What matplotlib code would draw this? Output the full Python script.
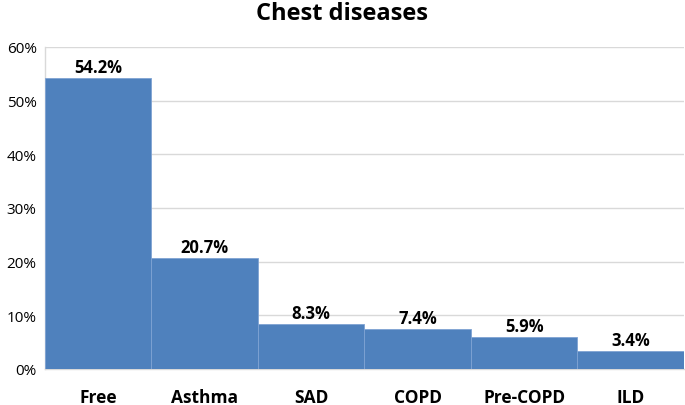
import matplotlib
matplotlib.use("Agg")
import matplotlib.pyplot as plt
from matplotlib.ticker import FuncFormatter

categories = ["Free", "Asthma", "SAD", "COPD", "Pre-COPD", "ILD"]
values = [54.2, 20.7, 8.3, 7.4, 5.9, 3.4]
value_labels = ["54.2%", "20.7%", "8.3%", "7.4%", "5.9%", "3.4%"]
yticks = [0, 10, 20, 30, 40, 50, 60]

plt.rcParams['font.family'] = ['Open Sans', 'DejaVu Sans']

fig = plt.figure(figsize=(6.85, 4.06), dpi=100)
ax = fig.add_axes([0.0657, 0.0887, 0.9328, 0.7931])

x = list(range(len(categories)))
bars = ax.bar(x, values, width=1.0, color="#4F81BD", edgecolor="#7FA3D3", linewidth=0.6, zorder=3)
for xi, v, lab in zip(x, values, value_labels):
    ax.text(xi, v + 0.4, lab, ha="center", va="bottom", fontsize=12, fontweight="bold", color="black")

ax.set_xlim(-0.5, len(categories) - 0.5)
ax.set_ylim(0, 60)
ax.set_yticks(yticks)
ax.yaxis.set_major_formatter(FuncFormatter(lambda v, p: f"{int(v)}%"))
ax.set_xticks(x)
ax.set_xticklabels(categories, fontsize=12.5, fontweight="bold")
ax.tick_params(axis="y", labelsize=11, length=0, pad=6)
ax.tick_params(axis="x", length=0, pad=14)
ax.grid(axis="y", color="#D9D9D9", linewidth=1, zorder=0)
for s in ["top", "right"]:
    ax.spines[s].set_visible(False)
for s in ["left", "bottom"]:
    ax.spines[s].set_color("#D9D9D9")
    ax.spines[s].set_linewidth(1)

fig.suptitle("Chest diseases", y=0.995, fontsize=17, fontweight="bold")

fig.savefig("out.png", dpi=100)
